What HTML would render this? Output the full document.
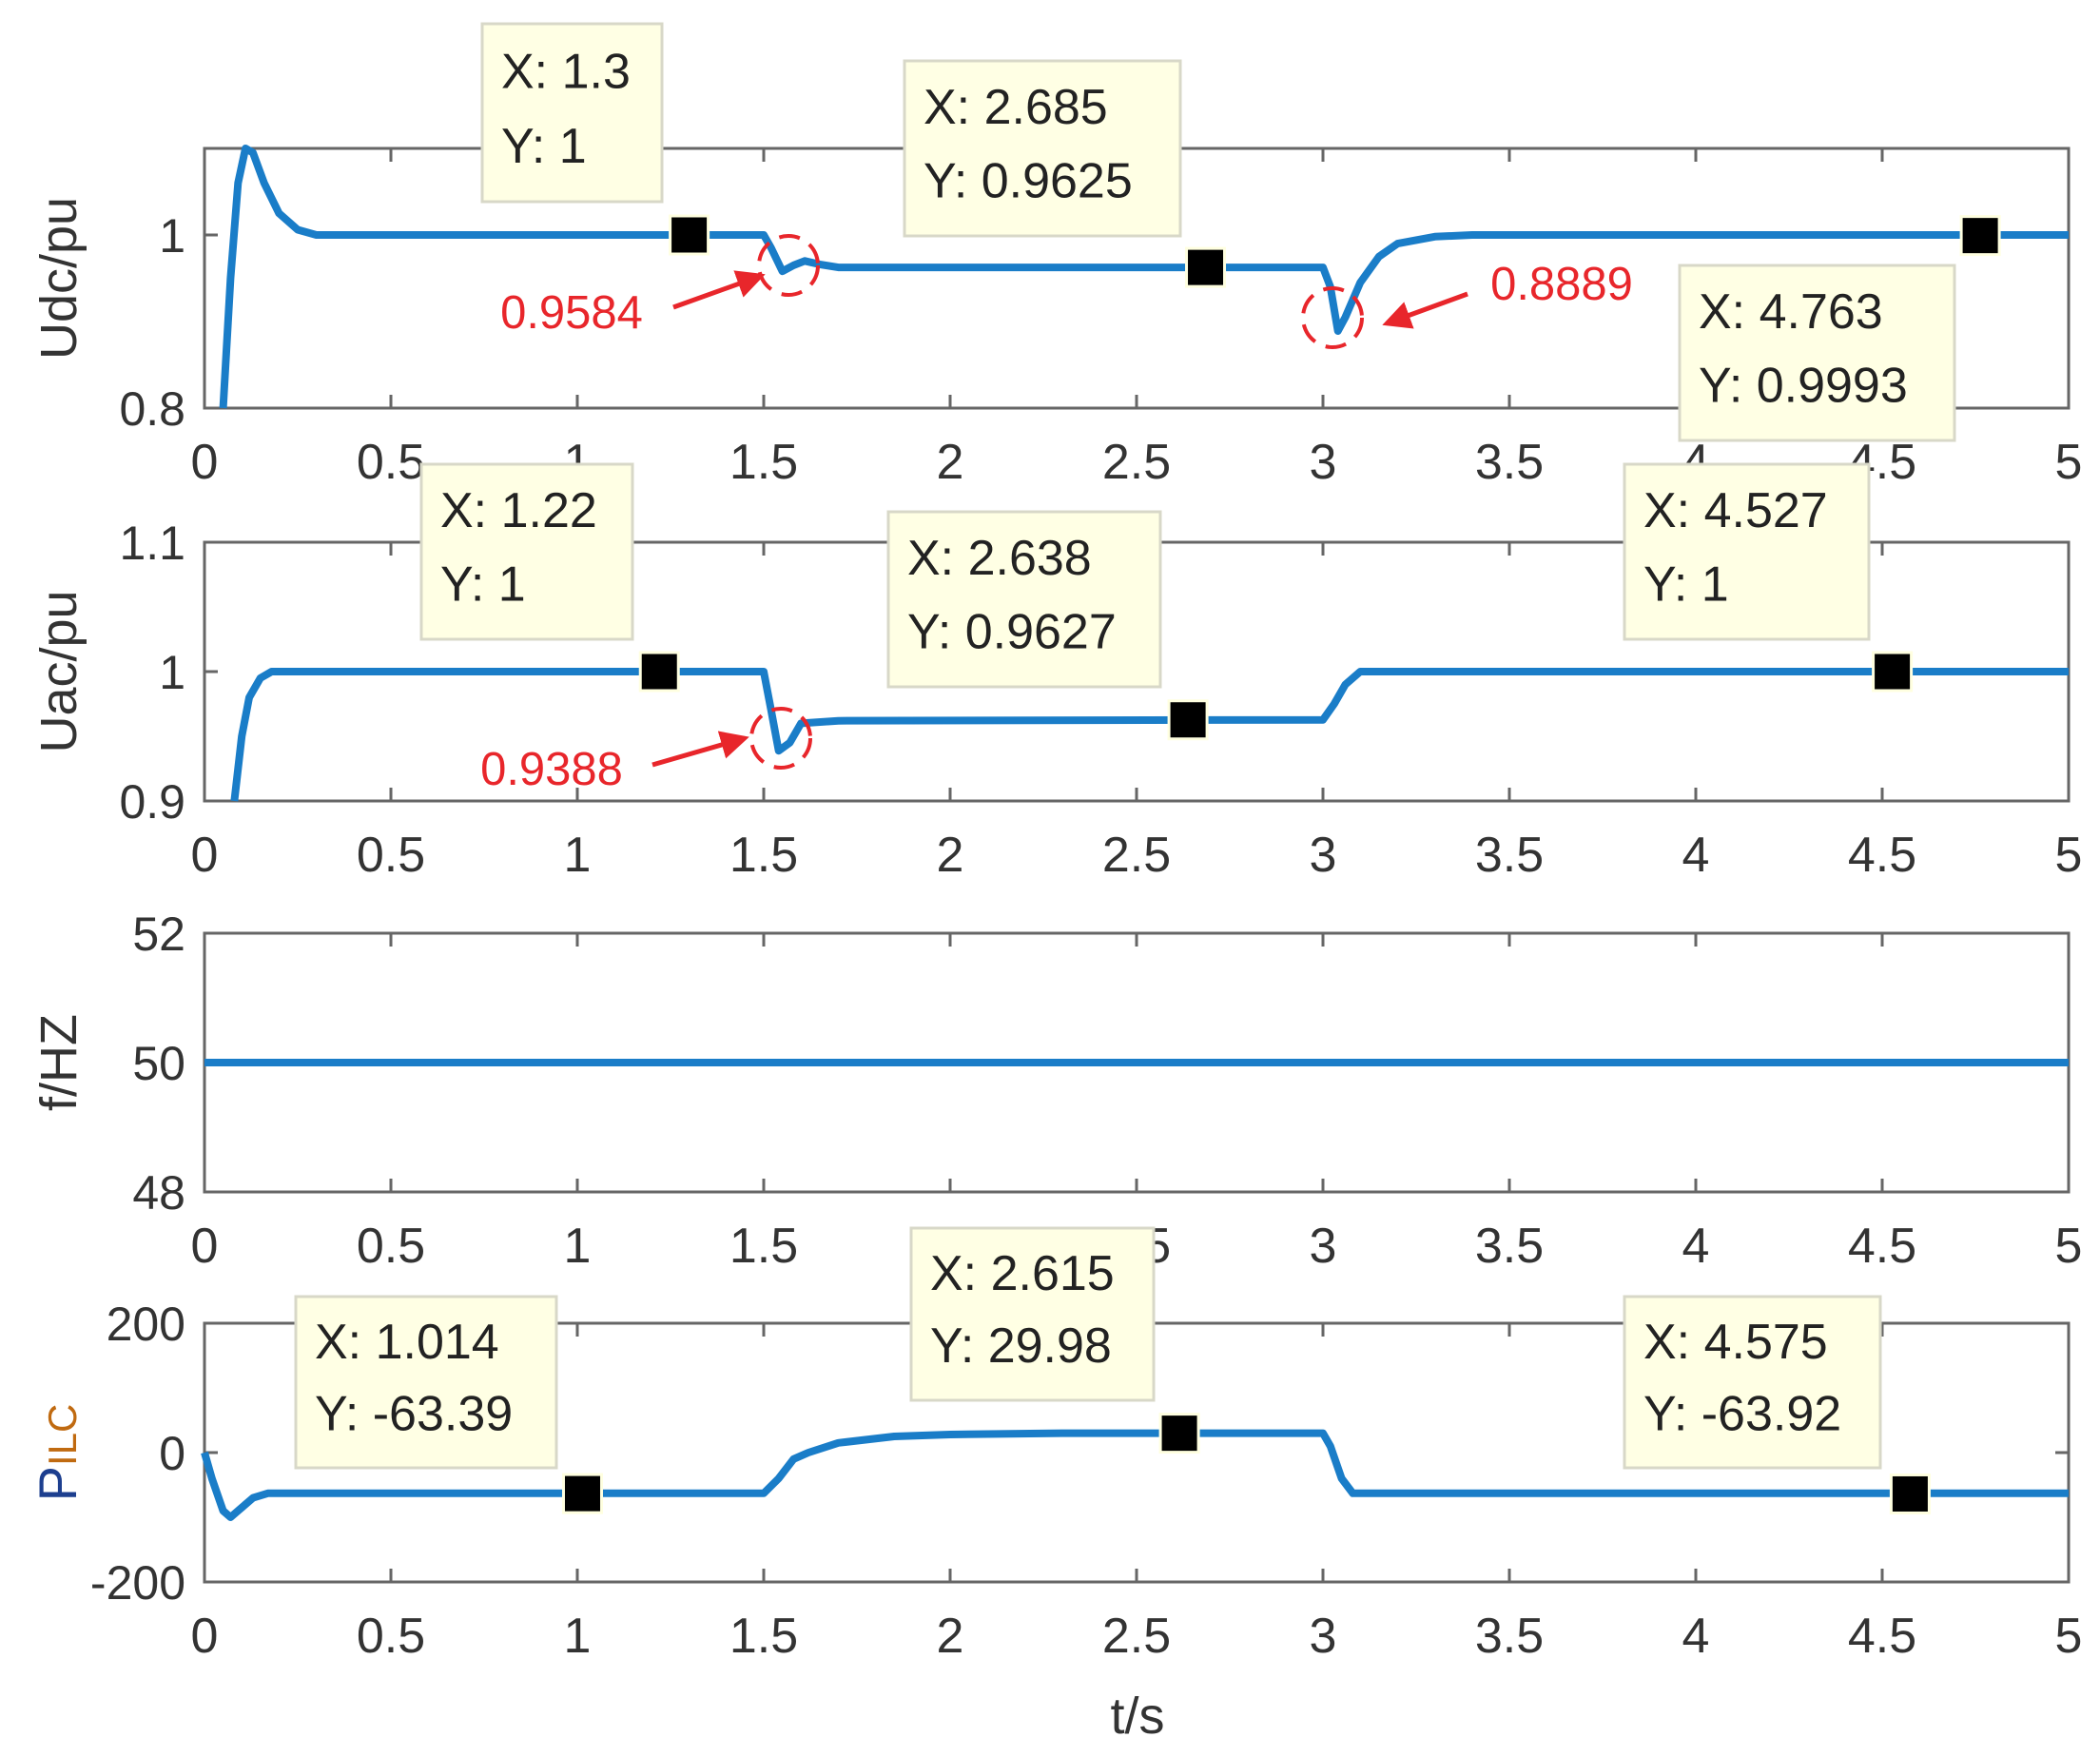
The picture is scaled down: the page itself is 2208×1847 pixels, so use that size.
<!DOCTYPE html>
<html><head><meta charset="utf-8"><style>
html,body{margin:0;padding:0;background:#fff}
svg{display:block}
text{font-family:"Liberation Sans",sans-serif}
</style></head><body>
<svg id="fig" width="2208" height="1847" viewBox="0 0 2208 1847" xmlns="http://www.w3.org/2000/svg"></svg>
<script>
const xTicks=[0,0.5,1,1.5,2,2.5,3,3.5,4,4.5,5];
const xTickLabels=["0","0.5","1","1.5","2","2.5","3","3.5","4","4.5","5"];
const udcT=[0.05,0.07,0.09,0.11,0.13,0.16,0.2,0.25,0.3,0.4,1.5,1.52,1.55,1.58,1.61,1.65,1.7,3.0,3.02,3.04,3.06,3.1,3.15,3.2,3.3,3.4,5];
const udcV=[0.8,0.95,1.06,1.1,1.095,1.06,1.025,1.006,1.0,1.0,1.0,0.985,0.958,0.965,0.97,0.966,0.9625,0.9625,0.94,0.889,0.905,0.945,0.975,0.99,0.998,1.0,1.0];
const uacT=[0.08,0.1,0.12,0.15,0.18,0.25,1.5,1.52,1.54,1.57,1.6,1.7,3.0,3.03,3.06,3.1,5];
const uacV=[0.9,0.95,0.98,0.995,1.0,1.0,1.0,0.97,0.9388,0.945,0.96,0.962,0.9627,0.975,0.99,1.0,1.0];
const fT=[0,5];
const fV=[50,50];
const pT=[0,0.02,0.05,0.07,0.1,0.13,0.17,0.25,1.5,1.54,1.58,1.62,1.7,1.85,2.0,2.3,3.0,3.02,3.05,3.08,5];
const pV=[0,-40,-90,-100,-85,-70,-63,-63,-63,-40,-10,0,15,25,28,30,30,10,-40,-63,-63];
const panels=[
 {name:"udc",top:156,bot:429,ymin:0.8,ymax:1.1,ticks:[0.8,1],tl:["0.8","1"],t:udcT,v:udcV,lab:"Udc/pu",mk:[[1.3,1],[2.685,0.9625],[4.763,0.9993]]},
 {name:"uac",top:570,bot:842,ymin:0.9,ymax:1.1,ticks:[0.9,1,1.1],tl:["0.9","1","1.1"],t:uacT,v:uacV,lab:"Uac/pu",mk:[[1.22,1],[2.638,0.9627],[4.527,1]]},
 {name:"freq",top:981,bot:1253,ymin:48,ymax:52,ticks:[48,50,52],tl:["48","50","52"],t:fT,v:fV,lab:"f/HZ",mk:[]},
 {name:"pilc",top:1391,bot:1663,ymin:-200,ymax:200,ticks:[-200,0,200],tl:["-200","0","200"],t:pT,v:pV,lab:"PILC",mk:[[1.014,-63.39],[2.615,29.98],[4.575,-63.92]]}
];
const L=215,R=2175;
const svg=document.getElementById('fig');
const NS="http://www.w3.org/2000/svg";
function mk(tag,attrs,parent){const e=document.createElementNS(NS,tag);for(const k in attrs)e.setAttribute(k,attrs[k]);(parent||svg).appendChild(e);return e;}
function xs(t){return L+(t/5)*(R-L);}
panels.forEach(p=>{
 const ys=v=>p.bot-(v-p.ymin)/(p.ymax-p.ymin)*(p.bot-p.top);
 const g=mk('g',{});
 
 
 const fr=mk('rect',{x:L,y:p.top,width:R-L,height:p.bot-p.top,fill:'none',stroke:'#666','stroke-width':3},g);
 
 
 xTicks.forEach((t,i)=>{
  const x=xs(t);
  mk('line',{x1:x,y1:p.bot,x2:x,y2:p.bot-14,stroke:'#666','stroke-width':3},g);
  mk('line',{x1:x,y1:p.top,x2:x,y2:p.top+14,stroke:'#666','stroke-width':3},g);
  const tx=mk('text',{x:x,y:p.bot+74,'font-size':52,'text-anchor':'middle',fill:'#333'},g);
  tx.textContent=xTickLabels[i];
  
  
 });
 p.ticks.forEach((v,i)=>{
  const y=ys(v);
  mk('line',{x1:L,y1:y,x2:L+14,y2:y,stroke:'#666','stroke-width':3},g);
  mk('line',{x1:R,y1:y,x2:R-14,y2:y,stroke:'#666','stroke-width':3},g);
  const tx=mk('text',{x:195,y:y+18,'font-size':50,'text-anchor':'end',fill:'#333'},g);
  tx.textContent=p.tl[i];
  
  
 });
 let d='';
 p.t.forEach((t,i)=>{d+=(i?'L':'M')+xs(t).toFixed(1)+','+ys(p.v[i]).toFixed(1);});
 const ln=mk('path',{d:d,fill:'none',stroke:'#1a7dc8','stroke-width':8,'stroke-linejoin':'round'},g);
 
 
 p.mk.forEach(m=>{
  const r=mk('rect',{x:xs(m[0])-20,y:ys(m[1])-20,width:40,height:40,fill:'#000',stroke:'#ffffe0','stroke-width':3},g);
  
  
 });
 const cy=(p.top+p.bot)/2;
 const yl=mk('text',{x:0,y:0,'font-size':54,'text-anchor':'middle',fill:'#333',transform:'translate(80,'+cy+') rotate(-90)'},g);
 
 
 if(p.name==='pilc'){yl.innerHTML='<tspan fill="#1d3f8f" font-size="56">P</tspan><tspan fill="#c06a10" font-size="42">ILC</tspan>';}
 else yl.textContent=p.lab;
});
const xt=mk('text',{x:1196,y:1822,'font-size':54,'text-anchor':'middle',fill:'#333'});
xt.textContent='t/s';


const tips=[[507,25,189,187,"1.3","1"],[951,64,290,184,"2.685","0.9625"],[1766,279,289,184,"4.763","0.9993"],
 [443,488,222,184,"1.22","1"],[934,538,286,184,"2.638","0.9627"],[1708,488,257,184,"4.527","1"],
 [958,1291,255,181,"2.615","29.98"],[311,1363,274,180,"1.014","-63.39"],[1708,1363,269,180,"4.575","-63.92"]];
tips.forEach(tp=>{
 const g=mk('g',{});
 
 
 mk('rect',{x:tp[0],y:tp[1],width:tp[2],height:tp[3],fill:'#ffffe4',stroke:'#d8d8c8','stroke-width':3},g);
 const a=mk('text',{x:tp[0]+20,y:tp[1]+tp[3]*0.36,'font-size':52,fill:'#222'},g);a.textContent='X: '+tp[4];
 const b=mk('text',{x:tp[0]+20,y:tp[1]+tp[3]*0.78,'font-size':52,fill:'#222'},g);b.textContent='Y: '+tp[5];
});
const ann=[[601,345,"0.9584",708,323,800,290,829,279],[1642,315,"0.8889",1543,309,1458,340,1401,334],[580,825,"0.9388",686,804,783,776,821,776]];
mk('defs',{}).innerHTML='<marker id="ah" markerWidth="6" markerHeight="6" refX="5" refY="3" orient="auto"><path d="M0,0 L6,3 L0,6 z" fill="#e8262b"/></marker>';
ann.forEach(a=>{
 const g=mk('g',{});
 
 
 const t=mk('text',{x:a[0],y:a[1],'font-size':49,'text-anchor':'middle',fill:'#e8262b','font-family':'Liberation Mono, monospace'},g);t.textContent=a[2];
 mk('line',{x1:a[3],y1:a[4],x2:a[5],y2:a[6],stroke:'#e8262b','stroke-width':5,'marker-end':'url(#ah)'},g);
 mk('circle',{cx:a[7],cy:a[8],r:31,fill:'none',stroke:'#e8262b','stroke-width':4,'stroke-dasharray':'22 12'},g);
});
</script>
</body></html>
